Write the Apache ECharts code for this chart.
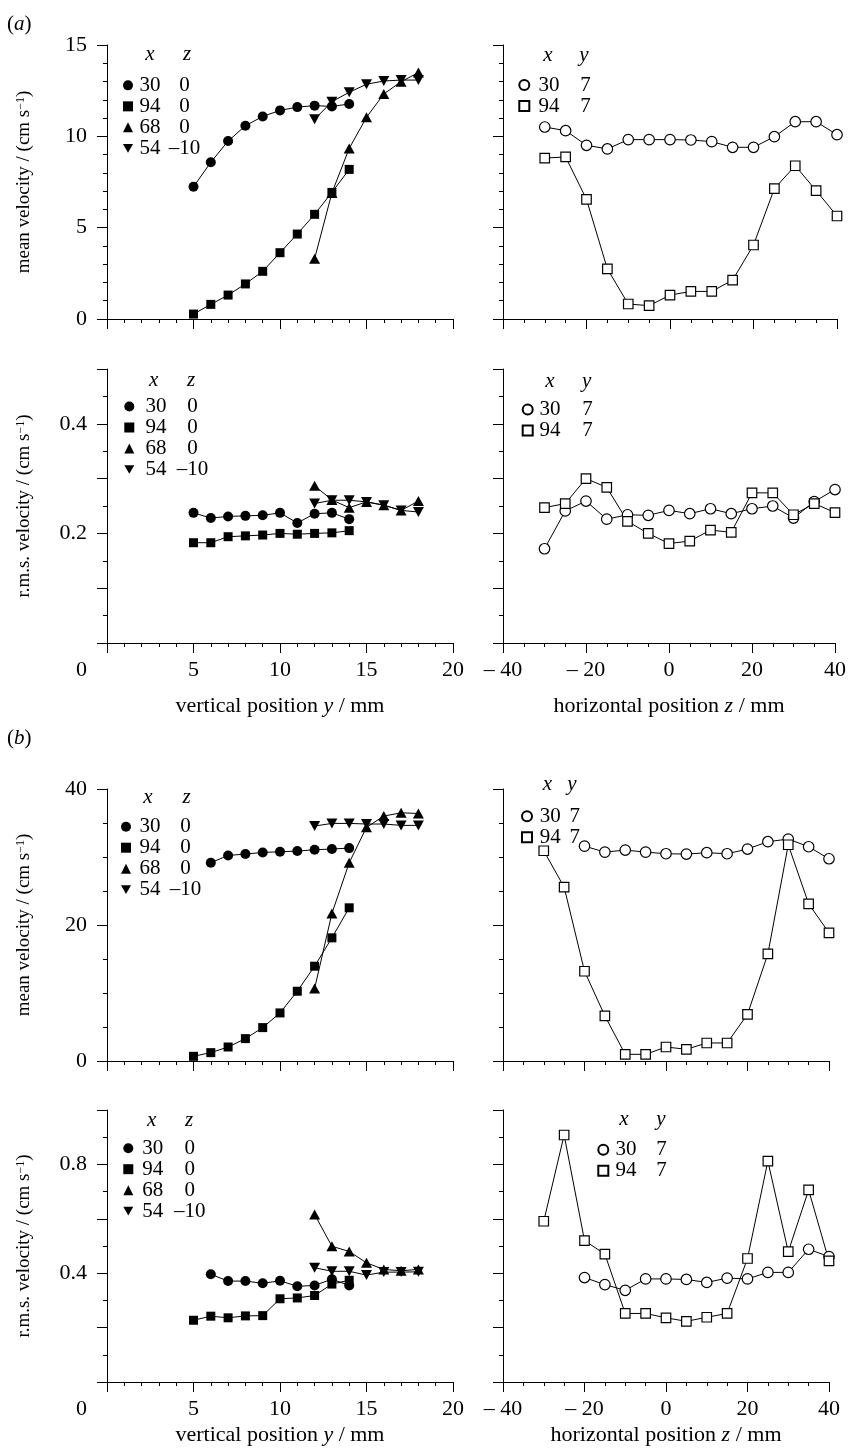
<!DOCTYPE html>
<html>
<head>
<meta charset="utf-8">
<script src="https://cdn.jsdelivr.net/npm/echarts@6/dist/echarts.min.js"></script>
<style>
  html, body { margin: 0; padding: 0; background: #fff; }
  #chart { width: 849px; height: 1450px; }
</style>
</head>
<body>
<div id="chart"></div>
<script>
// positions along the axes
const yFrom5 = [5, 6, 7, 8, 9, 10, 11, 12, 13, 14];
const yFrom6 = [6, 7, 8, 9, 10, 11, 12, 13, 14];
const yFrom12 = [12, 13, 14, 15, 16, 17, 18];
const zFrom30 = [-30, -25, -20, -15, -10, -5, 0, 5, 10, 15, 20, 25, 30, 35, 40];
const zFrom20 = [-20, -15, -10, -5, 0, 5, 10, 15, 20, 25, 30, 35, 40];

// (a) mean velocity vs y
const aMean30 = [7.24, 8.58, 9.74, 10.58, 11.09, 11.42, 11.60, 11.68, 11.64, 11.77];
const aMean94 = [0.27, 0.80, 1.31, 1.92, 2.61, 3.63, 4.65, 5.73, 6.93, 8.19];
const aMean68 = [3.3, 6.9, 9.34, 11.04, 12.32, 12.99, 13.49];
const aMean54 = [10.93, 11.9, 12.41, 12.85, 13.03, 13.08, 13.08];
// (a) mean velocity vs z
const aMeanZ30 = [10.51, 10.31, 9.51, 9.31, 9.82, 9.82, 9.82, 9.80, 9.71, 9.40, 9.40, 9.98, 10.80, 10.80, 10.09];
const aMeanZ94 = [8.81, 8.87, 6.55, 2.74, 0.82, 0.73, 1.31, 1.51, 1.51, 2.13, 4.05, 7.14, 8.39, 7.03, 5.64];
// (a) rms velocity vs y
const aRms30 = [0.2375, 0.228, 0.231, 0.232, 0.233, 0.2375, 0.219, 0.236, 0.2375, 0.226];
const aRms94 = [0.183, 0.183, 0.194, 0.1955, 0.197, 0.200, 0.1985, 0.200, 0.201, 0.205];
const aRms68 = [0.287, 0.261, 0.247, 0.2575, 0.2515, 0.242, 0.259];
const aRms54 = [0.2545, 0.2605, 0.2605, 0.2575, 0.2515, 0.242, 0.239];
// (a) rms velocity vs z
const aRmsZ30 = [0.172, 0.241, 0.259, 0.226, 0.234, 0.233, 0.242, 0.236, 0.245, 0.236, 0.245, 0.250, 0.228, 0.258, 0.280];
const aRmsZ94 = [0.247, 0.2545, 0.300, 0.284, 0.222, 0.200, 0.1815, 0.186, 0.206, 0.202, 0.274, 0.274, 0.234, 0.2545, 0.238];

// (b) mean velocity vs y
const bMean30 = [29.15, 30.23, 30.43, 30.67, 30.77, 30.87, 31.07, 31.17, 31.31];
const bMean94 = [0.69, 1.23, 2.06, 3.29, 4.91, 7.07, 10.26, 13.94, 18.11, 22.53];
const bMean68 = [10.65, 21.69, 29.15, 34.36, 36.02, 36.5, 36.4];
const bMean54 = [34.55, 34.94, 34.94, 34.85, 34.85, 34.65, 34.65];
// (b) mean velocity vs z
const bMeanZ30 = [31.6, 30.72, 31.02, 30.72, 30.48, 30.43, 30.63, 30.48, 31.17, 32.25, 32.64, 31.51, 29.74];
const bMeanZ94 = [30.92, 25.57, 13.2, 6.63, 0.98, 0.98, 2.06, 1.72, 2.65, 2.65, 6.87, 15.75, 31.8, 23.12, 18.85];
// (b) rms velocity vs y
const bRms30 = [0.396, 0.371, 0.371, 0.363, 0.372, 0.352, 0.355, 0.378, 0.355];
const bRms94 = [0.227, 0.242, 0.236, 0.243, 0.244, 0.306, 0.309, 0.318, 0.360, 0.374];
const bRms68 = [0.616, 0.499, 0.480, 0.438, 0.414, 0.409, 0.414];
const bRms54 = [0.420, 0.407, 0.407, 0.393, 0.404, 0.404, 0.405];
// (b) rms velocity vs z
const bRmsZ30 = [0.384, 0.358, 0.337, 0.379, 0.379, 0.377, 0.366, 0.382, 0.379, 0.403, 0.403, 0.488, 0.461];
const bRmsZ94 = [0.591, 0.908, 0.520, 0.470, 0.252, 0.252, 0.236, 0.223, 0.238, 0.252, 0.454, 0.812, 0.479, 0.706, 0.445];

// legend entries "x,z" / "x,y"
const namesY = ['30,0', '94,0', '68,0', '54,–10'];
const namesZ = ['30,7', '94,7'];

const FONT = 'Liberation Serif';
const DOWN = 'path://M0,0L10,0L5,8.66Z';

const marks = {
  '30,0': { symbol: 'circle', symbolSize: 10, itemStyle: { color: '#000' } },
  '94,0': { symbol: 'rect', symbolSize: 9, itemStyle: { color: '#000' } },
  '68,0': { symbol: 'triangle', symbolSize: [11, 10], itemStyle: { color: '#000' } },
  '54,–10': { symbol: DOWN, symbolSize: [11, 10], itemStyle: { color: '#000' } },
  '30,7': { symbol: 'circle', symbolSize: 10.5, itemStyle: { color: '#fff', borderColor: '#000', borderWidth: 1.2 } },
  '94,7': { symbol: 'rect', symbolSize: 9.5, itemStyle: { color: '#fff', borderColor: '#000', borderWidth: 1.2 } }
};
const icons = { '30,0': 'circle', '94,0': 'rect', '68,0': 'triangle', '54,–10': DOWN, '30,7': 'circle', '94,7': 'rect' };

function pairs(xs, ys) {
  return xs.map((x, i) => [x, ys[i]]);
}

function line(name, idx, xs, ys) {
  return Object.assign({
    name: name,
    type: 'line',
    xAxisIndex: idx,
    yAxisIndex: idx,
    data: pairs(xs, ys),
    showSymbol: true,
    lineStyle: { color: '#000', width: 1 },
    emphasis: { disabled: true },
    z: 3
  }, marks[name]);
}

// panel boxes: [left, top, width, height]
const boxes = [
  [107, 45, 346, 274], [503, 45, 334, 274],
  [107, 369, 346, 274], [503, 369, 334, 274],
  [107, 789, 346, 272], [503, 789, 326, 272],
  [107, 1110, 346, 272], [503, 1110, 326, 272]
];

const near = (a, b) => Math.abs(a - b) < 1e-6;

function xAxis(idx, isZ, showLabels, title, gap) {
  return {
    type: 'value', gridIndex: idx,
    min: isZ ? -40 : 0, max: isZ ? 40 : 20, interval: isZ ? 20 : 5,
    axisLine: { show: true, onZero: false, lineStyle: { color: '#000', width: 1 } },
    axisTick: { show: true, length: 10, lineStyle: { color: '#000' } },
    minorTick: { show: true, splitNumber: isZ ? 4 : 5, length: 4, lineStyle: { color: '#000' } },
    splitLine: { show: false },
    axisLabel: {
      show: showLabels, margin: 16, color: '#000', fontFamily: FONT, fontSize: 22,
      formatter: v => isZ ? (v < 0 ? '– ' + (-v) : String(v)) : (v === 0 ? '' : String(v))
    },
    name: title || '',
    nameLocation: 'middle',
    nameGap: gap,
    nameTextStyle: {
      color: '#000', fontFamily: FONT, fontSize: 22,
      rich: { i: { fontStyle: 'italic', fontFamily: FONT, fontSize: 22, color: '#000' } }
    }
  };
}

function yAxis(idx, cfg, showLabels, title) {
  return {
    type: 'value', gridIndex: idx,
    min: 0, max: cfg.max, interval: cfg.interval,
    axisLine: { show: true, onZero: false, lineStyle: { color: '#000', width: 1 } },
    axisTick: { show: true, length: 10, lineStyle: { color: '#000' } },
    minorTick: { show: true, splitNumber: cfg.split, length: 4, lineStyle: { color: '#000' } },
    splitLine: { show: false },
    axisLabel: {
      show: showLabels, margin: 20, color: '#000', fontFamily: FONT, fontSize: 22,
      formatter: cfg.fmt,
      rich: { lo: { padding: [54, 0, 0, 0], fontFamily: FONT, fontSize: 22, color: '#000' } }
    },
    name: title || '',
    nameLocation: 'middle',
    nameGap: 73,
    nameTextStyle: {
      color: '#000', fontFamily: FONT, fontSize: 19,
      rich: { sup: { fontSize: 12, fontFamily: FONT, color: '#000', verticalAlign: 'top', lineHeight: 12 } }
    }
  };
}

const meanA = { max: 15, interval: 5, split: 5, fmt: v => String(v) };
const meanB = { max: 40, interval: 20, split: 4, fmt: v => String(v) };
const rmsA = {
  max: 0.5, interval: 0.1, split: 2,
  fmt: v => near(v, 0) ? '{lo|0}' : (near(v, 0.2) ? '0.2' : (near(v, 0.4) ? '0.4' : ''))
};
const rmsB = {
  max: 1.0, interval: 0.2, split: 2,
  fmt: v => near(v, 0) ? '{lo|0}' : (near(v, 0.4) ? '0.4' : (near(v, 0.8) ? '0.8' : ''))
};

const meanTitle = 'mean velocity / (cm s{sup|−1})';
const rmsTitle = 'r.m.s. velocity / (cm s{sup|−1})';
const yTitle = 'vertical position {i|y} / mm';
const zTitle = 'horizontal position {i|z} / mm';

function legend(names, p) {
  return {
    orient: 'vertical', left: p.left, top: p.top, padding: 0, itemGap: 0,
    itemWidth: 10, itemHeight: 10, selectedMode: false,
    data: names.map(n => ({ name: n, icon: icons[n] })),
    formatter: n => {
      const s = n.split(',');
      return '{n|' + s[0] + '}{v|' + s[1] + '}';
    },
    textStyle: {
      color: '#000', fontFamily: FONT, fontSize: 21,
      rich: {
        n: { width: p.n, padding: [0, 0, 0, p.pad + 1.5], fontFamily: FONT, fontSize: 21, lineHeight: p.lh, color: '#000' },
        v: { width: p.v, align: 'center', fontFamily: FONT, fontSize: 21, lineHeight: p.lh, color: '#000' }
      }
    }
  };
}

function label(x, y, txt, italic, size) {
  return {
    type: 'text', x: x, y: y, silent: true,
    style: {
      text: txt, fill: '#000',
      font: (italic ? 'italic ' : '') + (size || 21) + 'px "' + FONT + '"',
      align: 'center', verticalAlign: 'middle',
      textAlign: 'center', textVerticalAlign: 'middle'
    }
  };
}

const heads = [
  [150, 187, 54.5, 'z'], [548, 584, 55.5, 'y'],
  [153.7, 191, 380.5, 'z'], [550, 586.7, 381.5, 'y'],
  [148, 186.7, 797.5, 'z'], [547.5, 572, 784.5, 'y'],
  [151.7, 189, 1120.5, 'z'], [624, 661, 1119.5, 'y']
];
const graphic = [];
heads.forEach(h => {
  graphic.push(label(h[0], h[2], 'x', true));
  graphic.push(label(h[1], h[2], h[3], true));
});
['a', 'b'].forEach((k, i) => {
  graphic.push({
    type: 'text', x: 7, y: i === 0 ? 24 : 738, silent: true,
    style: {
      text: '({i|' + k + '})', fill: '#000', font: '21px "' + FONT + '"',
      verticalAlign: 'middle', textVerticalAlign: 'middle',
      rich: { i: { fontStyle: 'italic', fontFamily: FONT, fontSize: 21 } }
    }
  });
});

const option = {
  animation: false,
  backgroundColor: '#fff',
  grid: boxes.map(b => ({ left: b[0], top: b[1], width: b[2], height: b[3], containLabel: false })),
  xAxis: [
    xAxis(0, false, false), xAxis(1, true, false),
    xAxis(2, false, true, yTitle, 52), xAxis(3, true, true, zTitle, 52),
    xAxis(4, false, false), xAxis(5, true, false),
    xAxis(6, false, true, yTitle, 42), xAxis(7, true, true, zTitle, 42)
  ],
  yAxis: [
    yAxis(0, meanA, true, meanTitle), yAxis(1, meanA, false),
    yAxis(2, rmsA, true, rmsTitle), yAxis(3, rmsA, false),
    yAxis(4, meanB, true, meanTitle), yAxis(5, meanB, false),
    yAxis(6, rmsB, true, rmsTitle), yAxis(7, rmsB, false)
  ],
  legend: [
    legend(namesY, { left: 123, top: 74.85, lh: 18.3, n: 28, v: 34, pad: 0 }),
    legend(namesZ, { left: 518.3, top: 74.5, lh: 20, n: 37, v: 20, pad: 2.7 }),
    legend(namesY, { left: 124.3, top: 396, lh: 21.2, n: 30, v: 34, pad: 4.7 }),
    legend(namesZ, { left: 521.7, top: 399, lh: 20, n: 38, v: 20, pad: 0.3 }),
    legend(namesY, { left: 121, top: 816.2, lh: 19.6, n: 29, v: 34, pad: 2 }),
    legend(namesZ, { left: 521, top: 805.75, lh: 19.5, n: 25, v: 20, pad: 1.3 }),
    legend(namesY, { left: 123.3, top: 1137.7, lh: 20.6, n: 30, v: 35, pad: 2.4 }),
    legend(namesZ, { left: 597.3, top: 1139.25, lh: 19.5, n: 36, v: 20, pad: 0.7 })
  ],
  graphic: graphic,
  series: [
    line('30,0', 0, yFrom5, aMean30),
    line('94,0', 0, yFrom5, aMean94),
    line('68,0', 0, yFrom12, aMean68),
    line('54,–10', 0, yFrom12, aMean54),
    line('30,7', 1, zFrom30, aMeanZ30),
    line('94,7', 1, zFrom30, aMeanZ94),

    line('30,0', 2, yFrom5, aRms30),
    line('94,0', 2, yFrom5, aRms94),
    line('68,0', 2, yFrom12, aRms68),
    line('54,–10', 2, yFrom12, aRms54),
    line('30,7', 3, zFrom30, aRmsZ30),
    line('94,7', 3, zFrom30, aRmsZ94),

    line('30,0', 4, yFrom6, bMean30),
    line('94,0', 4, yFrom5, bMean94),
    line('68,0', 4, yFrom12, bMean68),
    line('54,–10', 4, yFrom12, bMean54),
    line('30,7', 5, zFrom20, bMeanZ30),
    line('94,7', 5, zFrom30, bMeanZ94),

    line('30,0', 6, yFrom6, bRms30),
    line('94,0', 6, yFrom5, bRms94),
    line('68,0', 6, yFrom12, bRms68),
    line('54,–10', 6, yFrom12, bRms54),
    line('30,7', 7, zFrom20, bRmsZ30),
    line('94,7', 7, zFrom30, bRmsZ94)
  ]
};

const chart = echarts.init(document.getElementById('chart'), null, { renderer: 'canvas' });
chart.setOption(option);
</script>
</body>
</html>
